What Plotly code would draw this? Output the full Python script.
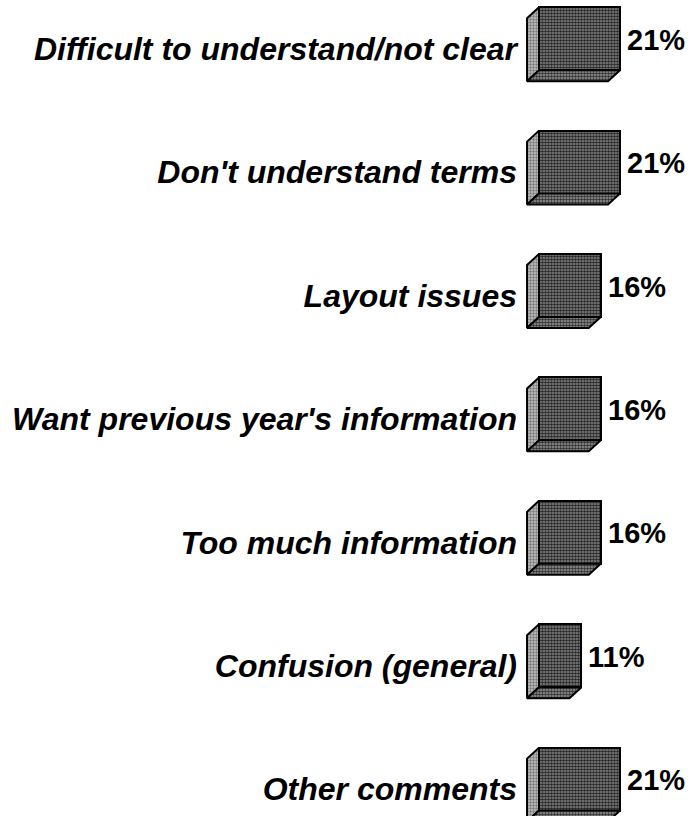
import plotly.graph_objects as go

# Survey responses: reasons given, share of respondents (%)
categories = [
    "Difficult to understand/not clear",
    "Don't understand terms",
    "Layout issues",
    "Want previous year's information",
    "Too much information",
    "Confusion (general)",
    "Other comments",
]
values = [21, 21, 16, 16, 16, 11, 21]
value_labels = ["21%", "21%", "16%", "16%", "16%", "11%", "21%"]

# 3-D box styling (depth of the extruded faces, in axis units)
BAR_WIDTH = 0.51
DEPTH_X = 3.1
DEPTH_Y = 0.089
EDGE = "black"

rows = list(range(len(categories)))

fig = go.Figure()

# front faces, stippled dark grey
fig.add_trace(go.Bar(
    x=values, y=rows, orientation="h", width=BAR_WIDTH, base=0,
    marker=dict(
        color="#8a8a8a", line=dict(color=EDGE, width=2),
        pattern=dict(shape=".", fgcolor="#262626", bgcolor="#8a8a8a",
                     size=3, solidity=0.6, fillmode="replace"),
    ),
    hoverinfo="skip", showlegend=False,
))

# side and bottom faces, extruded down-left from each front face
h = BAR_WIDTH / 2
for r, v in zip(rows, values):
    top, bot = r - h, r + h
    fig.add_trace(go.Scatter(
        x=[0, 0, -DEPTH_X, -DEPTH_X, 0],
        y=[top, bot, bot + DEPTH_Y, top + DEPTH_Y, top],
        mode="lines", fill="toself", fillcolor="#c4c4c4",
        fillpattern=dict(shape=".", fgcolor="#7a7a7a", bgcolor="#c4c4c4",
                         size=3, solidity=0.5, fillmode="replace"),
        line=dict(color=EDGE, width=2), hoverinfo="skip", showlegend=False,
    ))
    fig.add_trace(go.Scatter(
        x=[0, v, v - DEPTH_X, -DEPTH_X, 0],
        y=[bot, bot, bot + DEPTH_Y, bot + DEPTH_Y, bot],
        mode="lines", fill="toself", fillcolor="#8a8a8a",
        fillpattern=dict(shape=".", fgcolor="#303030", bgcolor="#9a9a9a",
                         size=3, solidity=0.55, fillmode="replace"),
        line=dict(color=EDGE, width=2), hoverinfo="skip", showlegend=False,
    ))

# percentage labels beside each box
for r, v, t in zip(rows, values, value_labels):
    fig.add_annotation(
        x=v, y=r, text=t, showarrow=False, xanchor="left", yanchor="middle",
        xshift=5, yshift=-1,
        font=dict(family="Liberation Sans, Arial, sans-serif", size=29,
                  color="black", weight="bold"),
    )

fig.update_xaxes(range=[-3.37, 39.93], visible=False, fixedrange=True)
fig.update_yaxes(
    range=[6.299, -0.3136], tickvals=rows, ticktext=categories,
    showgrid=False, zeroline=False, showline=False, ticks="",
    ticklabelstandoff=8, ticklabelshift=-10,
    tickfont=dict(family="Liberation Sans, Arial, sans-serif", size=32,
                  color="black", weight="bold", style="italic"),
    fixedrange=True,
)

fig.update_layout(
    width=693, height=816,
    margin=dict(l=526, r=0, t=0, b=0),
    plot_bgcolor="white", paper_bgcolor="white",
    bargap=0,
)

fig.write_html("out.html")
